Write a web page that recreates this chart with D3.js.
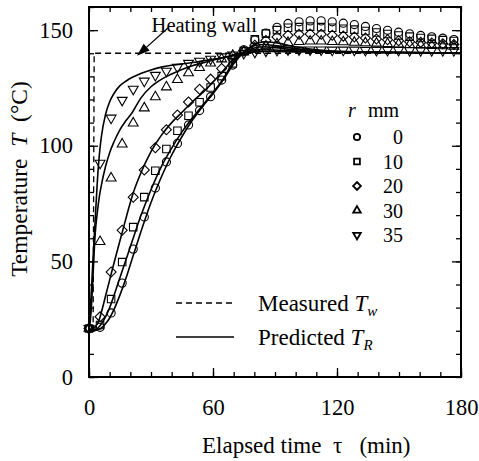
<!DOCTYPE html>
<html>
<head>
<meta charset="utf-8">
<script src="https://cdn.jsdelivr.net/npm/d3@7"></script>
<style>
body { margin: 0; background: #fff; }
text { font-family: "Liberation Serif", "Times New Roman", serif; fill: #000; white-space: pre; }
</style>
</head>
<body>
<div class="chart"></div>
<script>
// measured points, sampled every ~5.35 min
const times = [0, 5.35, 10.7, 16.05, 21.4, 26.75, 32.1, 37.45, 42.8, 48.15, 53.5, 58.85, 64.2, 69.55,
    74.9, 80.25, 85.6, 90.95, 96.3, 101.65, 107, 112.35, 117.7, 123.05, 128.4, 133.75, 139.1,
    144.45, 149.8, 155.15, 160.5, 165.85, 171.2, 176.55];
const meas_r0 = [21, 21.5, 27.7, 40.6, 55.3, 69.2, 81.7, 93, 101, 109, 115.2, 121.2, 128.4, 134.9,
    141.5, 145.7, 148.7, 151.2, 152.9, 153.6, 154, 154, 153.6, 153, 152.4, 151.6, 150.7,
    149.9, 149.1, 148.4, 147.7, 147.1, 146.5, 145.9];
const meas_r10 = [21, 22.5, 33.7, 49.7, 64.8, 77.8, 89.2, 98.6, 106.5, 113, 118.8, 125.2, 130.1, 135.6,
    141, 146, 148.5, 150, 151, 151.3, 151.5, 151.3, 151, 150.6, 150.2, 149.6, 149,
    148.3, 147.7, 147.2, 146.6, 146.2, 145.7, 145.3];
const meas_r20 = [21, 26, 45.4, 63.5, 77.7, 89.5, 99.1, 106.9, 113.3, 118.9, 124.4, 128.8, 133.4, 137.5,
    141, 143.5, 145.5, 147, 147.8, 148.2, 148.3, 148.2, 147.8, 147.4, 147, 146.6, 146.2,
    145.8, 145.4, 145, 144.7, 144.4, 144.1, 143.8];
const meas_r30 = [21, 58.5, 86, 100.7, 109.8, 116.3, 121.1, 125.4, 128.6, 131.5, 133.8, 135.7, 137.5, 139,
    140.5, 142, 143, 144, 144.6, 145, 145.2, 145.2, 145, 144.9, 144.7, 144.5, 144.3,
    144.1, 143.9, 143.7, 143.5, 143.3, 143.2, 143];
const meas_r35 = [21, 92.5, 112, 119.7, 124.5, 128, 130.5, 132.3, 134, 135.7, 136.6, 137.5, 138.5, 139.3,
    140, 140.5, 141, 141.3, 141.5, 141.5, 141.5, 141.5, 141.4, 141.4, 141.4, 141.3, 141.3,
    141.3, 141.3, 141.2, 141.2, 141.2, 141.2, 141.2];

// predicted curves
const predTimes = [0, 1, 2, 3, 4, 5, 6, 8, 10, 12, 15, 18, 21, 25, 30, 35, 40, 45, 50, 55, 60, 65, 70,
    75, 80, 85, 90, 100, 110, 125, 150, 180];
const pred_r0 = [20, 20, 20, 20.1, 20.3, 20.7, 21.2, 23, 25.5, 29, 35.5, 43, 51.5, 62.5, 75.5, 86.5, 96,
    104, 111, 117, 122.5, 128.5, 135.5, 140.5, 143.8, 145, 144.6, 142.8, 141.5, 140.7, 140.3, 140.2];
const pred_r10 = [20, 20, 20.2, 20.5, 21, 21.8, 23, 26, 30, 35, 43, 51, 59, 69.5, 81, 91, 99, 106,
    112, 117.5, 123, 129, 136.5, 140.8, 143.2, 143.8, 143.3, 142, 141.2, 140.6, 140.3, 140.2];
const pred_r20 = [20, 20.3, 20.8, 21.8, 23, 25, 28, 35, 42, 49, 59, 69, 78.5, 88, 97.5, 104.5, 110,
    114.5, 119, 123, 127.5, 132.5, 137.5, 140.5, 142.3, 142.8, 142.4, 141.5, 140.9, 140.5, 140.3, 140.2];
const pred_r30 = [20, 28, 45, 62, 71, 78, 83, 91, 97, 101.5, 107, 111, 114.5, 120.5, 125.5, 128.7, 131,
    133, 134.6, 135.8, 137, 138.2, 139.2, 140.4, 141.2, 141.5, 141.4, 141, 140.7, 140.5, 140.3, 140.2];
const pred_r35 = [20, 35, 52, 68, 84, 96, 104, 113.5, 119, 122.5, 126, 128, 129.6, 131.2, 132.8, 134,
    134.8, 135.4, 136, 136.7, 137.4, 138.1, 138.9, 139.8, 140.5, 140.8, 140.8, 140.6, 140.5, 140.4, 140.3, 140.2];

// heating wall (measured Tw)
const wallTimes = [0, 2, 2.5, 180];
const wallTemps = [20, 22, 140, 140];

const radii = ["0", "10", "20", "30", "35"];
const symbolsByRadius = ["circle", "square", "diamond", "up", "down"];

const measured = [meas_r0, meas_r10, meas_r20, meas_r30, meas_r35];
const predicted = [pred_r0, pred_r10, pred_r20, pred_r30, pred_r35];

const width = 479;
const height = 461;
const margin = {top: 7, right: 18, bottom: 84, left: 89};

const svg = d3.select("div.chart")
    .append("svg")
    .attr("width", width)
    .attr("height", height);

const x = d3.scaleLinear().domain([0, 180]).range([margin.left, width - margin.right]);
const y = d3.scaleLinear().domain([0, 160]).range([height - margin.bottom, margin.top]);

const x0 = margin.left, x1 = width - margin.right;
const y0 = height - margin.bottom, y1 = margin.top;

// ticks: minor every 10, major every 60 (x) / 50 (y), all pointing inward
function ticks(g) {
    g.select(".domain").remove();
    g.selectAll("line").attr("stroke", "#000").attr("stroke-width", 1.3);
}
const fontSize = 22.5;

svg.append("g").attr("transform", `translate(0,${y0})`)
    .call(d3.axisBottom(x).tickValues(d3.range(0, 181, 10)).tickSize(-5).tickFormat(""))
    .call(ticks);
svg.append("g").attr("transform", `translate(0,${y0})`)
    .call(d3.axisBottom(x).tickValues([0, 60, 120, 180]).tickSize(-9).tickPadding(22))
    .call(ticks)
    .selectAll("text").style("font-size", fontSize + "px").attr("font-family", null);

svg.append("g").attr("transform", `translate(0,${y1})`)
    .call(d3.axisTop(x).tickValues(d3.range(0, 181, 10)).tickSize(-5).tickFormat(""))
    .call(ticks);
svg.append("g").attr("transform", `translate(0,${y1})`)
    .call(d3.axisTop(x).tickValues([60, 120]).tickSize(-9).tickFormat(""))
    .call(ticks);

svg.append("g").attr("transform", `translate(${x0},0)`)
    .call(d3.axisLeft(y).tickValues(d3.range(0, 161, 10)).tickSize(-5).tickFormat(""))
    .call(ticks);
svg.append("g").attr("transform", `translate(${x0},0)`)
    .call(d3.axisLeft(y).tickValues([0, 50, 100, 150]).tickSize(-9).tickPadding(16))
    .call(ticks)
    .selectAll("text").style("font-size", fontSize + "px").attr("font-family", null);

svg.append("g").attr("transform", `translate(${x1},0)`)
    .call(d3.axisRight(y).tickValues(d3.range(0, 161, 10)).tickSize(-5).tickFormat(""))
    .call(ticks);
svg.append("g").attr("transform", `translate(${x1},0)`)
    .call(d3.axisRight(y).tickValues([50, 100, 150]).tickSize(-9).tickFormat(""))
    .call(ticks);

// frame
svg.append("rect")
    .attr("x", x0).attr("y", y1)
    .attr("width", x1 - x0).attr("height", y0 - y1)
    .attr("fill", "none").attr("stroke", "#000").attr("stroke-width", 2);

// axis titles
const xTitle = svg.append("text")
    .attr("x", 202).attr("y", 453)
    .style("font-size", "23px");
xTitle.append("tspan").text("Elapsed time  τ   (min)");

const yTitle = svg.append("text")
    .attr("transform", "translate(27,179) rotate(-90)")
    .attr("text-anchor", "middle")
    .style("font-size", "23.5px");
yTitle.append("tspan").text("Temperature  ");
yTitle.append("tspan").attr("font-style", "italic").text("T");
yTitle.append("tspan").text("  (°C)");

// lines
const line = d3.line()
    .x(d => x(d[0]))
    .y(d => y(d[1]))
    .curve(d3.curveMonotoneX);

const plot = svg.append("g");

plot.append("path")
    .datum(wallTimes.map((t, i) => [t, wallTemps[i]]))
    .attr("d", d3.line().x(d => x(d[0])).y(d => y(d[1])))
    .attr("fill", "none")
    .attr("stroke", "#000")
    .attr("stroke-width", 1.3)
    .attr("stroke-dasharray", "6,4");

plot.selectAll("path.pred")
    .data(predicted)
    .enter()
    .append("path")
    .attr("class", "pred")
    .attr("d", d => line(predTimes.map((t, i) => [t, d[i]])))
    .attr("fill", "none")
    .attr("stroke", "#000")
    .attr("stroke-width", 1.6);

// markers
function symbolPath(kind, scale) {
    if (kind === "circle") return d3.symbol(d3.symbolCircle, 52 * scale)();
    if (kind === "square") return d3.symbol(d3.symbolSquare, 56 * scale)();
    if (kind === "diamond") return d3.symbol(d3.symbolSquare, 50 * scale)();
    return d3.symbol(d3.symbolTriangle, 42 * scale)();
}
function symbolRotate(kind) {
    if (kind === "diamond") return 45;
    if (kind === "down") return 180;
    return 0;
}

measured.forEach(function (series, s) {
    const kind = symbolsByRadius[s];
    plot.append("g")
        .selectAll("path")
        .data(series.map((v, i) => [times[i], v]))
        .enter()
        .append("path")
        .attr("d", symbolPath(kind, 1))
        .attr("transform", d => `translate(${x(d[0])},${y(d[1])}) rotate(${symbolRotate(kind)})`)
        .attr("fill", "none")
        .attr("stroke", "#000")
        .attr("stroke-width", 1.1);
});

// heating wall annotation
svg.append("text")
    .attr("x", x(30.3)).attr("y", y(149.3))
    .style("font-size", "20.5px")
    .text("Heating wall");

const tail = [x(38.2), y(150.9)];
const tip = [x(23.2), y(138.9)];
const ang = Math.atan2(tip[1] - tail[1], tip[0] - tail[0]);
const headLen = 13, headW = 4.5;
const base = [tip[0] - headLen * Math.cos(ang), tip[1] - headLen * Math.sin(ang)];
svg.append("line")
    .attr("x1", tail[0]).attr("y1", tail[1])
    .attr("x2", base[0]).attr("y2", base[1])
    .attr("stroke", "#000").attr("stroke-width", 1.3);
svg.append("path")
    .attr("d", d3.line()([
        tip,
        [base[0] + headW * Math.sin(ang), base[1] - headW * Math.cos(ang)],
        [base[0] - headW * Math.sin(ang), base[1] + headW * Math.cos(ang)]
    ]) + "Z")
    .attr("fill", "#000");

// legend: radius
const legX = 357, legNumX = 403, legY0 = 137, legStep = 24.5;
svg.append("text").attr("x", 348).attr("y", 117).style("font-size", "20px")
    .attr("font-style", "italic").text("r");
svg.append("text").attr("x", 368).attr("y", 117).style("font-size", "20px").text("mm");

radii.forEach(function (r, i) {
    const kind = symbolsByRadius[i];
    svg.append("path")
        .attr("d", symbolPath(kind, 0.6))
        .attr("transform", `translate(${legX},${legY0 + i * legStep}) rotate(${symbolRotate(kind)})`)
        .attr("fill", "none")
        .attr("stroke", "#000")
        .attr("stroke-width", 1.8);
    svg.append("text")
        .attr("x", legNumX).attr("y", legY0 + i * legStep + 7)
        .attr("text-anchor", "end")
        .style("font-size", "20px")
        .text(r);
});

// legend: lines
svg.append("line")
    .attr("x1", 176).attr("x2", 234).attr("y1", 303).attr("y2", 303)
    .attr("stroke", "#000").attr("stroke-width", 1.3).attr("stroke-dasharray", "6,4");
svg.append("line")
    .attr("x1", 176).attr("x2", 234).attr("y1", 337).attr("y2", 337)
    .attr("stroke", "#000").attr("stroke-width", 1.6);

const lm = svg.append("text").attr("x", 258).attr("y", 311).style("font-size", "23px");
lm.append("tspan").text("Measured ");
lm.append("tspan").attr("font-style", "italic").text("T");
lm.append("tspan").attr("font-style", "italic").attr("dy", 5).style("font-size", "15px").text("w");

const lp = svg.append("text").attr("x", 258).attr("y", 345).style("font-size", "23px");
lp.append("tspan").text("Predicted ");
lp.append("tspan").attr("font-style", "italic").text("T");
lp.append("tspan").attr("font-style", "italic").attr("dy", 5).style("font-size", "15px").text("R");
</script>
</body>
</html>
